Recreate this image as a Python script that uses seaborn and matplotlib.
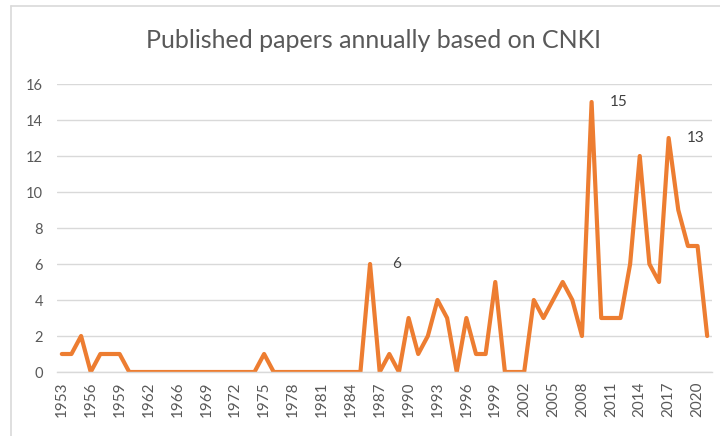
import matplotlib
matplotlib.use("Agg")
import matplotlib.pyplot as plt
import seaborn as sns
import pandas as pd
from matplotlib.lines import Line2D

years = [str(y) for y in range(1953, 1964)] + [str(y) for y in range(1965, 2022)]
papers = [1, 1, 2, 0, 1, 1, 1, 0, 0, 0, 0,
          0,
          0, 0, 0, 0, 0, 0, 0, 0, 0,
          1,
          0, 0, 0, 0, 0, 0, 0, 0, 0, 0,
          6, 0, 1, 0, 3, 1, 2, 4, 3, 0, 3, 1, 1, 5,
          0, 0, 0, 4, 3, 4, 5, 4, 2, 15, 3, 3, 3, 6, 12, 6, 5, 13, 9, 7, 7, 2]
label_years = ["1986", "2009", "2017"]
title = "Published papers annually based on CNKI"

sns.set_theme(style="white")
plt.rcParams['font.family'] = ['Lato', 'DejaVu Sans']

df = pd.DataFrame({"year": years, "papers": papers})
df["pos"] = range(len(df))

fig = plt.figure(figsize=(7.2, 4.36), dpi=100)
ax = fig.add_axes([57/720, 1-372/436, (712-57)/720, (372-84)/436])

sns.lineplot(data=df, x="pos", y="papers", ax=ax, color="#ED7D31",
             linewidth=3.0, solid_joinstyle="round", solid_capstyle="round",
             legend=False)

ax.set_xlim(-0.5, len(years) - 0.5)
ax.set_ylim(0, 16)
ax.set_yticks(range(0, 17, 2))
ax.set_yticklabels([str(v) for v in range(0, 17, 2)], fontsize=10.5, color="#595959")
tick_pos = list(range(0, len(years), 3))
ax.set_xticks(tick_pos)
ax.set_xticklabels([years[i] for i in tick_pos], rotation=90, fontsize=11, color="#595959")
ax.tick_params(axis="y", length=0, pad=10)
ax.tick_params(axis="x", length=0, pad=7)
ax.set_xlabel("")
ax.set_ylabel("")
ax.grid(axis="y", color="#D9D9D9", linewidth=1.0)
ax.set_axisbelow(True)
for s in ["top", "right", "left"]:
    ax.spines[s].set_visible(False)
ax.spines["bottom"].set_color("#D9D9D9")
ax.spines["bottom"].set_linewidth(1.0)

for y in label_years:
    i = years.index(y)
    ax.annotate(str(papers[i]), (i, papers[i]), xytext=(27, 0),
                textcoords="offset pixels", ha="center", va="center",
                fontsize=11, color="#404040")

fig.text(373/720, 1-40/436, title, ha="center", va="center",
         fontsize=18, color="#595959")

fig.add_artist(Line2D([11/720, 11/720], [-0.1, 1-6/436], transform=fig.transFigure,
                      color="#D9D9D9", linewidth=1.2))
fig.add_artist(Line2D([11/720, 1.1], [1-6/436, 1-6/436], transform=fig.transFigure,
                      color="#D9D9D9", linewidth=1.2))

fig.savefig("out.png", dpi=100)
